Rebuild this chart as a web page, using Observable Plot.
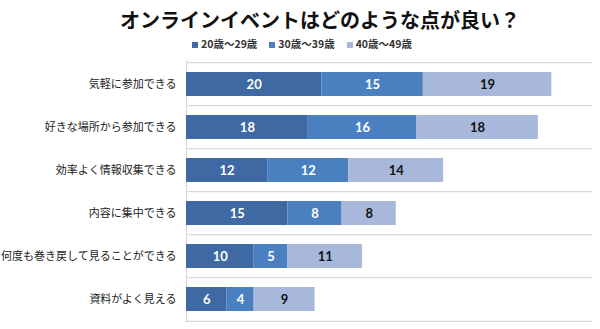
<!DOCTYPE html>
<html>
<head>
<meta charset="utf-8">
<script src="https://cdn.jsdelivr.net/npm/d3@7"></script>
<script src="https://cdn.jsdelivr.net/npm/@observablehq/plot@0.6"></script>
<style>
  body { margin: 0; background: #fff; font-family: "Noto Sans CJK JP", sans-serif; }
  #wrap { width: 600px; position: relative; }
  #header { position: relative; height: 56px; }
  #title { position: absolute; top: 6px; left: 40px; width: 560px; text-align: center;
           font-size: 20px; line-height: 28px; font-weight: bold; color: #111; }
  #legend { position: absolute; top: 36px; left: 0; width: 604px; text-align: center;
            font-size: 10.5px; line-height: 16px; font-weight: bold; color: #333; }
  #legend span.item { display: inline-block; margin: 0 6px; }
  #legend span.sw { display: inline-block; width: 6px; height: 6px; margin-right: 3px; vertical-align: 0px; }
</style>
</head>
<body>
<div id="wrap">
  <div id="header">
    <div id="title">オンラインイベントはどのような点が良い？</div>
    <div id="legend"></div>
  </div>
  <div id="chart"></div>
</div>
<script>
const categories = ["気軽に参加できる", "好きな場所から参加できる", "効率よく情報収集できる", "内容に集中できる", "何度も巻き戻して見ることができる", "資料がよく見える"];
const groups = ["20歳～29歳", "30歳～39歳", "40歳～49歳"];
const age20s = [20, 18, 12, 15, 10, 6];
const age30s = [15, 16, 12, 8, 5, 4];
const age40s = [19, 18, 14, 8, 11, 9];
const colors = ["#3e69a2", "#4a7fc0", "#a8b8db"];
const xMax = 60;

const series = [age20s, age30s, age40s];
const data = [];
categories.forEach((c, i) => {
  groups.forEach((g, j) => data.push({category: c, group: g, value: series[j][i]}));
});

// legend
const legend = document.getElementById("legend");
groups.forEach((g, j) => {
  const item = document.createElement("span");
  item.className = "item";
  const sw = document.createElement("span");
  sw.className = "sw";
  sw.style.background = colors[j];
  item.appendChild(sw);
  item.appendChild(document.createTextNode(g));
  legend.appendChild(item);
});

const height = 273, marginTop = 4, marginBottom = 7;
const step = (height - marginTop - marginBottom) / categories.length;

const chart = Plot.plot({
  width: 600,
  height: height,
  marginTop: marginTop,
  marginBottom: marginBottom,
  marginLeft: 186,
  marginRight: 8,
  style: {fontFamily: "'Noto Sans CJK JP', sans-serif", background: "#fff"},
  x: {domain: [0, xMax], axis: null},
  y: {domain: categories, paddingInner: 0.45, paddingOuter: 0.225, label: null},
  color: {domain: groups, range: colors},
  marks: [
    Plot.ruleY(categories, {y: d => d, dy: -step / 2, stroke: "#d9d9d9", strokeWidth: 1.2}),
    Plot.ruleY([categories[categories.length - 1]], {y: d => d, dy: step / 2, stroke: "#d9d9d9", strokeWidth: 1.2}),
    Plot.ruleX([0], {stroke: "#d9d9d9", strokeWidth: 1.2}),
    Plot.barX(data, Plot.stackX({x: "value", y: "category", fill: "group"})),
    Plot.textX(data.filter(d => d.group !== groups[2]), Plot.stackX({x: "value", y: "category", z: "group", text: "value", fill: "white", fontWeight: "bold", fontSize: 13, fontFamily: "Lato, sans-serif"})),
    Plot.textX(data, Plot.stackX({x: "value", y: "category", z: "group", text: d => d.group === groups[2] ? d.value : "", fill: "#111", fontWeight: "bold", fontSize: 13, fontFamily: "Lato, sans-serif"})),
    Plot.axisY({tickSize: 0, tickPadding: 10, fontSize: 11, color: "#222", label: null})
  ]
});
document.getElementById("chart").appendChild(chart);
</script>
</body>
</html>
